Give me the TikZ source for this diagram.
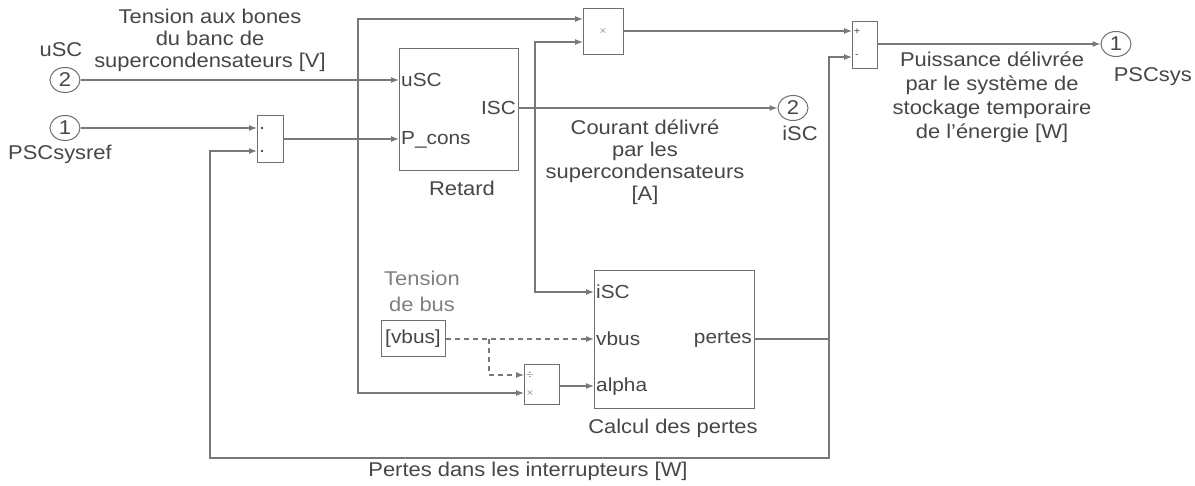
\documentclass[tikz,border=0pt]{standalone}
\usepackage{fontspec}
\setmainfont[FakeStretch=1.1]{Liberation Sans}
\usetikzlibrary{arrows.meta,shapes.geometric}
\definecolor{linec}{RGB}{120,120,120}
\definecolor{blkc}{RGB}{110,110,110}
\definecolor{txtc}{RGB}{70,70,70}
\begin{document}
\begin{tikzpicture}[x=1bp,y=-1bp,
  line/.style={draw=linec, line width=1.1bp},
  arr/.style={line, -{Latex[length=8bp,width=6bp]}},
  dline/.style={line, dash pattern=on 5bp off 4bp},
  darr/.style={dline, -{Latex[length=8bp,width=6bp]}},
  blk/.style={draw=blkc, line width=1.1bp, inner sep=0pt, anchor=north west},
  lbl/.style={text=txtc, font=\fontsize{20}{22}\selectfont, align=center, inner sep=0pt},
  prt/.style={text=txtc, font=\fontsize{19}{20}\selectfont, inner sep=2bp},
  sgn/.style={text=txtc, font=\fontsize{10}{10}\selectfont, inner sep=0pt},
  io/.style={ellipse, draw=blkc, line width=1bp, minimum width=30bp, minimum height=25bp, inner sep=0pt, font=\fontsize{20}{20}\selectfont, text=txtc},
]
\useasboundingbox (0,0) rectangle (1195,486);

% ---------- inports / outports ----------
\node[io] (in2) at (65,80) {2};
\node[lbl] (lusc) at (61,50) {uSC};
\node[io] (in1) at (65,128) {1};
\node[lbl] (lref) at (60,154) {PSCsysref};
\node[io] (out2) at (793,108) {2};
\node[lbl] (lisc) at (800,133) {iSC};
\node[io] (out1) at (1116,44) {1};
\node[lbl, anchor=east] (lpsc) at (1192,77) {PSCsys};

% ---------- blocks ----------
\node[blk, minimum width=26bp, minimum height=47bp] (mux) at (257,115) {};
\node[blk, minimum width=119bp, minimum height=122bp] (ret) at (399,48) {};
\node[blk, minimum width=40bp, minimum height=46bp] (prod) at (583,8) {};
\node[blk, minimum width=25bp, minimum height=47bp] (sum) at (852,21) {};
\node[blk, minimum width=160bp, minimum height=138bp] (calc) at (594,270) {};
\node[blk, minimum width=35bp, minimum height=40bp] (div) at (524,364) {};
\node[blk, draw=blkc, minimum width=64bp, minimum height=36bp] (from) at (381,320) {};
\node[lbl, font=\fontsize{19}{20}\selectfont] (fromt) at (413,339) {[vbus]};

% ---------- block texts ----------
\fill[txtc] (262,128) circle (1.3bp) (262,151) circle (1.3bp);
\node[sgn] (pl) at (857,32) {+};
\node[sgn] (mi) at (857,56) {-};
\node[sgn] (x1) at (603,31) {$\times$};
\node[sgn] (d1) at (530,375) {$\div$};
\node[sgn] (d2) at (530,393) {$\times$};

\node[prt, anchor=west] (pusc) at (399,80) {uSC};
\node[prt, anchor=west] (ppc) at (399,140) {P\_cons};
\node[prt, anchor=east] (pisc) at (518,108) {ISC};
\node[lbl] (lret) at (462,188) {Retard};

\node[prt, anchor=west] (ci) at (594,292) {iSC};
\node[prt, anchor=west] (cv) at (594,339) {vbus};
\node[prt, anchor=west] (ca) at (594,387) {alpha};
\node[prt, anchor=east] (cp) at (754,339) {pertes};
\node[lbl] (lcalc) at (673,428) {Calcul des pertes};

% ---------- signal labels ----------
\node[lbl] (t1) at (210,40) {Tension aux bones\\du banc de\\supercondensateurs [V]};
\node[lbl] (t2) at (645,162) {Courant délivré\\par les\\supercondensateurs\\{}[A]};
\node[lbl, font=\fontsize{20}{24}\selectfont] (t3) at (992,97) {Puissance délivrée\\par le système de\\stockage temporaire\\de l'énergie [W]};
\node[lbl, text=gray, font=\fontsize{20}{26}\selectfont] (t4) at (422,291) {Tension\\de bus};
\node[lbl] (t5) at (528,471) {Pertes dans les interrupteurs [W]};

% ---------- junction coordinates ----------
\coordinate (j1) at (358,80);
\coordinate (j2) at (535,108);
\coordinate (j3) at (829,339);
\coordinate (j4) at (489,339);

% ---------- connectors ----------
\draw[arr] (in2.east) -- (399,80);
\draw[arr] (j1) |- (583,19);
\draw[arr] (j1) |- (524,393);
\draw[arr] (in1.east) -- (257,128);
\draw[arr] (283,139) -- (399,139);
\draw[arr] (518,108) -- (out2.west);
\draw[arr] (j2) |- (583,42);
\draw[arr] (j2) |- (594,292);
\draw[arr] (623,31) -- (852,31);
\draw[arr] (877,44) -- (out1.west);
\draw[line] (754,339) -- (j3);
\draw[arr] (j3) |- (852,57);
\draw[arr] (j3) |- (210,458) |- (257,151);
\draw[darr] (446,339) -- (594,339);
\draw[darr] (j4) |- (524,375);
\draw[arr] (559,386) -- (594,386);
\end{tikzpicture}
\end{document}
